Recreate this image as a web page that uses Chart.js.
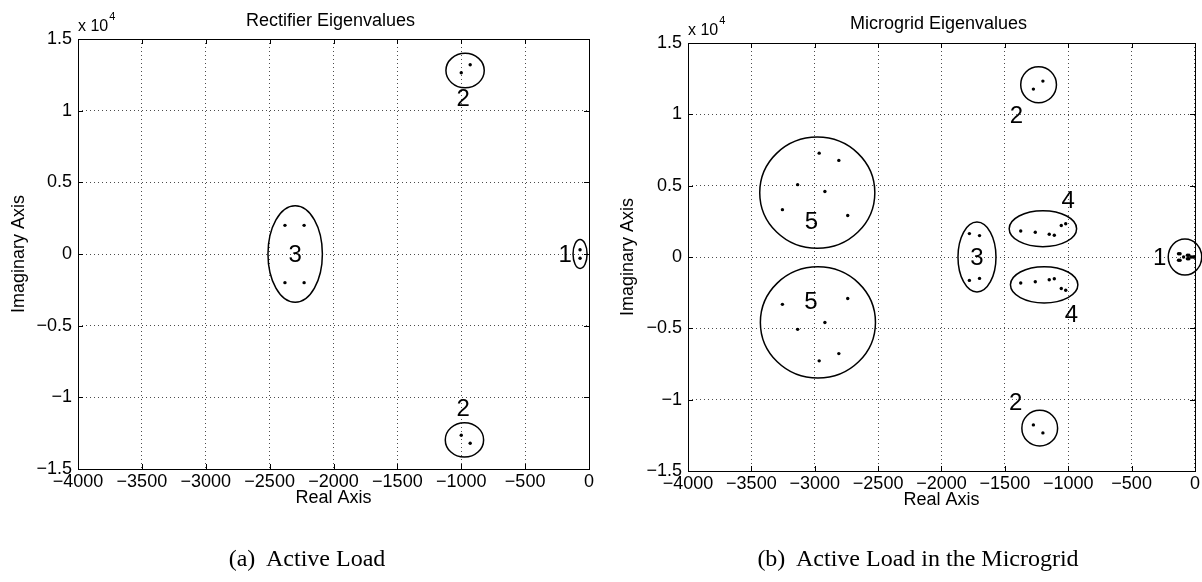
<!DOCTYPE html>
<html>
<head>
<meta charset="utf-8">
<script src="https://cdn.jsdelivr.net/npm/chart.js@4.4.0/dist/chart.umd.min.js"></script>
<style>
body { margin: 0; background: #fff; width: 1202px; height: 582px; position: relative; overflow: hidden; }
.boks { position: absolute; top: 0; height: 582px; }
.tekst { position: absolute; top: 544px; width: 500px; text-align: center; font-family: "Liberation Serif", "Times New Roman", serif; font-size: 24px; line-height: 28px; color: #000; white-space: pre; }
</style>
</head>
<body>
<div class="boks" style="left:0;width:600px"><canvas id="diagram1" width="600" height="582"></canvas></div>
<div class="boks" style="left:600px;width:602px"><canvas id="diagram2" width="602" height="582"></canvas></div>
<div class="tekst" style="left:57px">(a)  Active Load</div>
<div class="tekst" style="left:668px">(b)  Active Load in the Microgrid</div>
<script>
// Eigenverdiar, venstre figur (likerettar)
var rectRe = [-1000, -930, -1000, -930, -2380, -2230, -2380, -2230, -70, -70];
var rectIm = [12650, 13200, -12650, -13200, 2000, 2000, -2000, -2000, 300, -300];
// Ringar rundt gruppene (sentrum og radius i aksemål)
var rectRingX = [-970, -975, -2300, -70];
var rectRingY = [12800, -12970, 0, 0];
var rectRingRx = [150, 150, 213, 55];
var rectRingRy = [1200, 1200, 3370, 1010];
var rectTag = ['2', '2', '3', '1'];
var rectTagX = [-985, -985, -2300, -187];
var rectTagY = [10860, -10740, 0, 0];

// Eigenverdiar, høgre figur (mikronett)
var gridRe = [-1275, -1200, -1275, -1200,
    -2965, -2810, -3135, -2920, -3255, -2740, -2965, -2810, -3135, -2920, -3255, -2740,
    -1780, -1700, -1780, -1700,
    -1375, -1260, -1150, -1110, -1055, -1020, -1375, -1260, -1150, -1110, -1055, -1020,
    -130, -118, -130, -118, -60, -48, -60, -48, -90, -30, -15, -5];
var gridIm = [11770, 12330, -11770, -12330,
    7280, 6770, 5070, 4590, 3320, 2910, -7280, -6770, -5070, -4590, -3320, -2910,
    1640, 1500, -1640, -1500,
    1820, 1730, 1590, 1520, 2210, 2330, -1820, -1730, -1590, -1520, -2210, -2330,
    230, 230, -230, -230, 120, 120, -120, -120, 0, 0, 0, 0];
var gridRingX = [-1234, -1225, -2980, -2975, -1720, -1200, -1190, -79];
var gridRingY = [12075, -12000, 4506, -4590, 0, 1983, -1950, 0];
var gridRingRx = [141, 141, 454, 454, 150, 266, 266, 132];
var gridRingRy = [1261, 1250, 3900, 3900, 2450, 1261, 1270, 1261];
var gridTag = ['2', '2', '5', '5', '3', '4', '4', '1'];
var gridTagX = [-1408, -1415, -3026, -3030, -1720, -1000, -975, -279];
var gridTagY = [9950, -10180, 2475, -3130, 0, 3994, -3994, 0];

// Aksar
var xMin = -4000, xMax = 0, xStep = 500;
var yMin = -15000, yMax = 15000, yStep = 5000;

var skrift = '"Liberation Sans", Arial, sans-serif';

function gel(id) {
    return document.getElementById(id);
}
function minus(v) {
    return String(v).replace('-', '\u2212');
}
function lagPunkt(re, im) {
    var ut = [];
    for (var i = 0; i < re.length; i++) {
        ut.push({x: re[i], y: im[i]});
    }
    return ut;
}

// Teiknar ringar, tal, ramme, innoverpeikande tikkar og overskrift
var pyntPlugin = {
    id: 'pynt',
    afterDatasetsDraw(chart) {
        var o = chart.options.plugins.pynt;
        var ctx = chart.ctx, xs = chart.scales.x, ys = chart.scales.y, a = chart.chartArea;
        ctx.save();
        // ramme
        ctx.strokeStyle = '#000';
        ctx.lineWidth = 1;
        ctx.strokeRect(Math.round(a.left) + 0.5, Math.round(a.top) + 0.5, Math.round(a.right - a.left), Math.round(a.bottom - a.top));
        // tikkar
        ctx.beginPath();
        for (var v = xMin; v <= xMax; v += xStep) {
            var px = Math.round(xs.getPixelForValue(v)) + 0.5;
            ctx.moveTo(px, a.bottom); ctx.lineTo(px, a.bottom - 5);
            ctx.moveTo(px, a.top); ctx.lineTo(px, a.top + 5);
        }
        for (var w = yMin; w <= yMax; w += yStep) {
            var py = Math.round(ys.getPixelForValue(w)) + 0.5;
            ctx.moveTo(a.left, py); ctx.lineTo(a.left + 5, py);
            ctx.moveTo(a.right, py); ctx.lineTo(a.right - 5, py);
        }
        ctx.stroke();
        // ringar
        ctx.lineWidth = 1.5;
        for (var i = 0; i < o.rx.length; i++) {
            var cx = xs.getPixelForValue(o.cx[i]);
            var cy = ys.getPixelForValue(o.cy[i]);
            var rx = Math.abs(xs.getPixelForValue(o.cx[i] + o.rx[i]) - cx);
            var ry = Math.abs(ys.getPixelForValue(o.cy[i] + o.ry[i]) - cy);
            ctx.beginPath();
            ctx.ellipse(cx, cy, rx, ry, 0, 0, 2 * Math.PI);
            ctx.stroke();
        }
        // tal
        ctx.fillStyle = '#000';
        ctx.font = '24px ' + skrift;
        ctx.textAlign = 'center';
        ctx.textBaseline = 'middle';
        for (var j = 0; j < o.tag.length; j++) {
            ctx.fillText(o.tag[j], xs.getPixelForValue(o.tx[j]), ys.getPixelForValue(o.ty[j]) + 1);
        }
        // overskrift
        ctx.font = '18px ' + skrift;
        ctx.textBaseline = 'alphabetic';
        ctx.fillText(o.tittel, (a.left + a.right) / 2 - 3, o.tittelY);
        // x 10^4
        ctx.textAlign = 'left';
        ctx.font = '16px ' + skrift;
        ctx.fillText('x 10', a.left, a.top - 8);
        var b = ctx.measureText('x 10').width;
        ctx.font = '11px ' + skrift;
        ctx.fillText('4', a.left + b + 1, a.top - 19);
        ctx.restore();
    }
};

function teikn(id, re, im, ring, tittel, tittelY, venstre, topp, hogre, botn, tittelPad) {
    return new Chart(gel(id).getContext('2d'), {
        type: 'scatter',
        data: {
            datasets: [{
                data: lagPunkt(re, im),
                pointRadius: 1.7,
                pointBackgroundColor: '#000',
                pointBorderWidth: 0
            }]
        },
        options: {
            responsive: false,
            animation: false,
            layout: { padding: { top: topp, right: hogre, bottom: botn, left: 0 } },
            plugins: {
                legend: { display: false },
                tooltip: { enabled: false },
                pynt: { cx: ring[0], cy: ring[1], rx: ring[2], ry: ring[3], tag: ring[4], tx: ring[5], ty: ring[6], tittel: tittel, tittelY: tittelY }
            },
            scales: {
                x: {
                    type: 'linear', min: xMin, max: xMax,
                    ticks: { stepSize: xStep, autoSkip: false, maxRotation: 0, padding: 2, color: '#000', font: { family: skrift, size: 18 }, callback: function (v) { return minus(v); } },
                    grid: { color: 'rgba(0,0,0,0.7)', drawTicks: false },
                    border: { display: false, dash: [1, 3] },
                    title: { display: true, text: 'Real Axis', color: '#000', font: { family: skrift, size: 18 }, padding: 0 },
                    afterFit: function (s) { s.height = 40; }
                },
                y: {
                    type: 'linear', min: yMin, max: yMax,
                    ticks: { stepSize: yStep, autoSkip: false, padding: 6, color: '#000', font: { family: skrift, size: 18 }, callback: function (v) { return minus(v / 10000); } },
                    grid: { color: 'rgba(0,0,0,0.7)', drawTicks: false },
                    border: { display: false, dash: [1, 3] },
                    title: { display: true, text: 'Imaginary Axis', color: '#000', font: { family: skrift, size: 18 }, padding: { top: tittelPad, bottom: 0 } },
                    afterFit: function (s) { s.width = venstre; }
                }
            }
        },
        plugins: [pyntPlugin]
    });
}

teikn('diagram1', rectRe, rectIm, [rectRingX, rectRingY, rectRingRx, rectRingRy, rectTag, rectTagX, rectTagY], 'Rectifier Eigenvalues', 26, 78, 39, 11, 73, 8);
teikn('diagram2', gridRe, gridIm, [gridRingX, gridRingY, gridRingRx, gridRingRy, gridTag, gridTagX, gridTagY], 'Microgrid Eigenvalues', 29, 88, 43, 7, 71, 17);
</script>
</body>
</html>
